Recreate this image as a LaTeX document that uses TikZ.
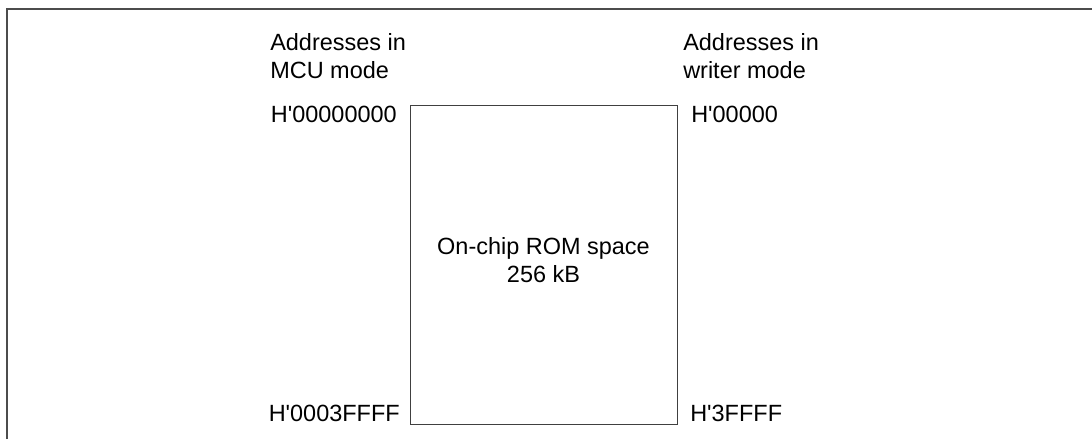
\documentclass[tikz,border=0pt]{standalone}
\usepackage{fontspec}
\setmainfont{Liberation Sans}
\begin{document}
\begin{tikzpicture}[x=0.75pt,y=-0.75pt,
  frameline/.style={draw=black!70, line width=0.9pt},
  romblock/.style={draw=black!75, line width=0.9pt, fill=white},
  lbl/.style={inner sep=0pt, font=\fontsize{17.6pt}{20.5pt}\selectfont, text=black}]
\useasboundingbox (0,0) rectangle (1092,439);
% frame
\coordinate (fTL) at (7,9);
\coordinate (fTR) at (1092,9);
\coordinate (fBL) at (7,439);
\draw[frameline] (fBL) -- (fTL) -- (fTR);
% ROM block
\node[romblock, minimum width=267*0.75pt, minimum height=319*0.75pt, anchor=north west, inner sep=0pt] (rom) at (410,105) {};
\node[lbl, align=center, anchor=north] (romtxt) at (543.5,237.5) {On-chip ROM space\\256 kB};
% headers
\node[lbl, align=left, anchor=north west] (hmcu) at (270,33.5) {Addresses in\\MCU mode};
\node[lbl, align=left, anchor=north west] (hwr) at (683,33.5) {Addresses in\\writer mode};
% addresses
\node[lbl, anchor=base east] (a1) at (397,122) {H\textquotesingle 00000000};
\node[lbl, anchor=base west] (a2) at (691,122) {H\textquotesingle 00000};
\node[lbl, anchor=base east] (a3) at (400,421) {H\textquotesingle 0003FFFF};
\node[lbl, anchor=base west] (a4) at (690,421) {H\textquotesingle 3FFFF};
\end{tikzpicture}
\end{document}
